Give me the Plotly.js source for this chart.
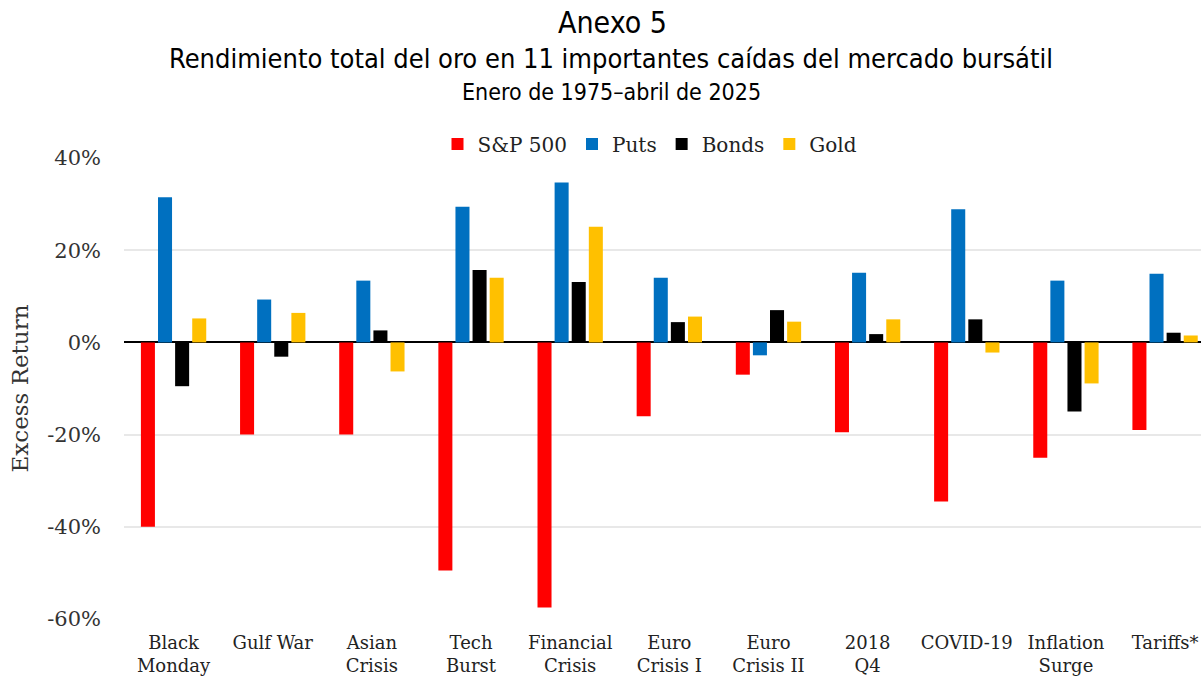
<!DOCTYPE html>
<html>
<head>
<meta charset="utf-8">
<script src="https://cdn.plot.ly/plotly-3.0.1.min.js"></script>
<style>html,body{margin:0;padding:0;background:#fff;}#chart{width:1201px;height:677px;}</style>
</head>
<body>
<div id="chart"></div>
<script>
const categories = ["Black<br>Monday","Gulf War","Asian<br>Crisis","Tech<br>Burst","Financial<br>Crisis","Euro<br>Crisis I","Euro<br>Crisis II","2018<br>Q4","COVID-19","Inflation<br>Surge","Tariffs*"];
const sp500 = [-40.0, -20.0, -20.0, -49.5, -57.5, -16.0, -7.0, -19.5, -34.5, -25.0, -19.0];
const puts  = [31.5, 9.3, 13.4, 29.4, 34.7, 14.0, -2.8, 15.1, 28.9, 13.4, 14.9];
const bonds = [-9.5, -3.1, 2.6, 15.7, 13.1, 4.4, 7.0, 1.8, 5.0, -15.0, 2.1];
const gold  = [5.2, 6.4, -6.3, 14.0, 25.1, 5.6, 4.5, 5.0, -2.2, -8.9, 1.5];
const seriesNames = ["S&P 500","Puts","Bonds","Gold"];
const seriesColors = ["#FF0000","#0070C0","#000000","#FFC000"];
const yTicks = [-60,-40,-20,0,20,40];
const yTickText = ["-60%","-40%","-20%","0%","20%","40%"];

const serif = "DejaVu Serif, serif";
const narrow = "Liberation Sans Narrow, DejaVu Sans Condensed, Liberation Sans, Arial, sans-serif";
const allVals = [sp500, puts, bonds, gold];
const traces = allVals.map((v, i) => ({
  type: "bar",
  x: categories,
  y: v,
  name: seriesNames[i],
  marker: {color: seriesColors[i]},
  hoverinfo: "x+y"
}));

const layout = {
  width: 1201, height: 677,
  paper_bgcolor: "#fff", plot_bgcolor: "#fff",
  margin: {l: 124, r: 0, t: 158, b: 58},
  title: {
    text: "Anexo 5",
    font: {family: narrow, size: 30, color: "#000"},
    x: 0.51, xanchor: "center",
    y: 1 - 22/677, yanchor: "middle"
  },
  annotations: [
    {text: "Rendimiento total del oro en 11 importantes caídas del mercado bursátil",
     xref: "paper", yref: "paper", x: (611-124)/1077, y: (619-58)/461,
     xanchor: "center", yanchor: "middle", showarrow: false,
     font: {family: narrow, size: 27, color: "#000"}},
    {text: "Enero de 1975–abril de 2025",
     xref: "paper", yref: "paper", x: (611-124)/1077, y: (619-92)/461,
     xanchor: "center", yanchor: "middle", showarrow: false,
     font: {family: narrow, size: 23, color: "#000"}}
  ],
  barmode: "group",
  bargap: 0.31,
  bargroupgap: 0.18,
  showlegend: true,
  legend: {
    orientation: "h", x: (650-124)/1077, xanchor: "center",
    y: (619-144)/461, yanchor: "middle",
    font: {family: serif, size: 20, color: "#222"},
    itemwidth: 30, tracegroupgap: 0
  },
  xaxis: {
    type: "category",
    range: [-0.5, -0.5 + 1077/99.15],
    tickfont: {family: serif, size: 18, color: "#222"},
    showgrid: false, zeroline: false, showline: false,
    ticks: "", automargin: false,
    ticklabelstandoff: 11
  },
  yaxis: {
    range: [-60, 40],
    tickvals: yTicks, ticktext: yTickText,
    tickfont: {family: serif, size: 21, color: "#333"},
    showgrid: true, gridcolor: "#E8E8E8", gridwidth: 2,
    zeroline: true, zerolinecolor: "#000", zerolinewidth: 2,
    showline: false, ticks: "",
    ticklabelstandoff: 22,
    automargin: false,
    title: {text: "Excess Return", font: {family: serif, size: 23, color: "#333"}, standoff: 12}
  }
};

Plotly.newPlot("chart", traces, layout, {displayModeBar: false, staticPlot: true});
</script>
</body>
</html>
